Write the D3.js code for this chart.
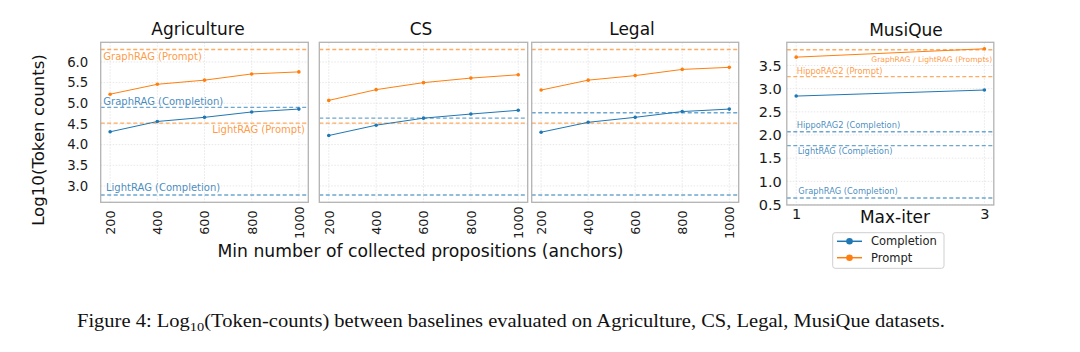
<!DOCTYPE html>
<html>
<head>
<meta charset="utf-8">
<script src="https://cdn.jsdelivr.net/npm/d3@7"></script>
<style>
  body { margin: 0; background: #fff; }
  svg { display: block; font-family: "DejaVu Sans", sans-serif; }
</style>
</head>
<body>
<div id="chart"></div>
<script>
// x values (min number of collected anchors)
const anchors = [200, 400, 600, 800, 1000];
const yTicks = [3.0, 3.5, 4.0, 4.5, 5.0, 5.5, 6.0];

// per dataset series (log10 token counts)
const agriPrompt = [5.22, 5.46, 5.56, 5.71, 5.76];
const agriCompletion = [4.31, 4.56, 4.66, 4.79, 4.86];
const csPrompt = [5.07, 5.33, 5.50, 5.61, 5.69];
const csCompletion = [4.22, 4.47, 4.64, 4.74, 4.83];
const legalPrompt = [5.32, 5.56, 5.67, 5.82, 5.87];
const legalCompletion = [4.30, 4.54, 4.66, 4.80, 4.86];

// baseline reference lines
const graphragPrompt = 6.30;
const lightragPrompt = 4.52;
const lightragCompletion = 2.78;
const graphragCompletion = [4.90, 4.64, 4.77]; // Agriculture, CS, Legal

// MusiQue
const maxIter = [1, 3];
const musiquePrompt = [3.68, 3.86];
const musiqueCompletion = [2.84, 2.97];
const musiqueYTicks = [0.5, 1.0, 1.5, 2.0, 2.5, 3.0, 3.5];
const musiqueRefs = [
    {label: 'GraphRAG / LightRAG (Prompts)', value: 3.84, kind: 'prompt'},
    {label: 'HippoRAG2 (Prompt)', value: 3.26, kind: 'prompt'},
    {label: 'HippoRAG2 (Completion)', value: 2.07, kind: 'completion'},
    {label: 'LightRAG (Completion)', value: 1.77, kind: 'completion'},
    {label: 'GraphRAG (Completion)', value: 0.64, kind: 'completion'}
];

const BLUE = '#1f77b4';
const ORANGE = '#ff7f0e';

const svg = d3.select('#chart').append('svg')
    .attr('width', 1080)
    .attr('height', 352);

const plotTop = 42.3, plotBottom = 202.3;

// shared y scale for the three anchor panels
const yMin = lightragCompletion, yMax = graphragPrompt;
const pad = (yMax - yMin) * 0.05;
const y = d3.scaleLinear().domain([yMin - pad, yMax + pad]).range([plotBottom, plotTop]);

const panels = [
    {name: 'Agriculture', x0: 100.7, x1: 308.3, titleX: 198, prompt: agriPrompt, completion: agriCompletion, gc: graphragCompletion[0]},
    {name: 'CS', x0: 319.3, x1: 527.7, titleX: 421, prompt: csPrompt, completion: csCompletion, gc: graphragCompletion[1]},
    {name: 'Legal', x0: 531.7, x1: 738.7, titleX: 632, prompt: legalPrompt, completion: legalCompletion, gc: graphragCompletion[2]}
];

function drawGrid(g, x, yS, xt, yt, x0, x1, y0, y1) {
    g.selectAll(null).data(xt).enter().append('line')
        .attr('x1', d => x(d)).attr('x2', d => x(d))
        .attr('y1', y0).attr('y2', y1)
        .attr('stroke', '#dcdcdc').attr('stroke-width', 0.7).attr('stroke-dasharray', '1.5,1.5');
    g.selectAll(null).data(yt).enter().append('line')
        .attr('x1', x0).attr('x2', x1)
        .attr('y1', d => yS(d)).attr('y2', d => yS(d))
        .attr('stroke', '#dcdcdc').attr('stroke-width', 0.7).attr('stroke-dasharray', '1.5,1.5');
}

function refLine(g, yS, v, color, x0, x1) {
    g.append('line')
        .attr('x1', x0).attr('x2', x1)
        .attr('y1', yS(v)).attr('y2', yS(v))
        .attr('stroke', color).attr('stroke-width', 1.4)
        .attr('stroke-opacity', 0.65)
        .attr('stroke-dasharray', '4,2.5');
}

function series(g, x, yS, xs, ys, color) {
    const line = d3.line().x((d, i) => x(xs[i])).y(d => yS(d));
    g.append('path').datum(ys)
        .attr('d', line).attr('fill', 'none')
        .attr('stroke', color).attr('stroke-width', 1);
    g.selectAll(null).data(ys).enter().append('circle')
        .attr('cx', (d, i) => x(xs[i])).attr('cy', d => yS(d))
        .attr('r', 1.8).attr('fill', color);
}

panels.forEach((p, pi) => {
    const x = d3.scaleLinear().domain([160, 1040]).range([p.x0, p.x1]);
    const g = svg.append('g');

    drawGrid(g, x, y, anchors, yTicks, p.x0, p.x1, plotTop, plotBottom);

    refLine(g, y, graphragPrompt, ORANGE, p.x0, p.x1);
    refLine(g, y, lightragPrompt, ORANGE, p.x0, p.x1);
    refLine(g, y, p.gc, BLUE, p.x0, p.x1);
    refLine(g, y, lightragCompletion, BLUE, p.x0, p.x1);

    series(g, x, y, anchors, p.prompt, ORANGE);
    series(g, x, y, anchors, p.completion, BLUE);

    // frame
    g.append('rect')
        .attr('x', p.x0).attr('y', plotTop)
        .attr('width', p.x1 - p.x0).attr('height', plotBottom - plotTop)
        .attr('fill', 'none').attr('stroke', '#b3b3b3').attr('stroke-width', 1.3);

    // x axis, rotated labels
    const xa = g.append('g')
        .attr('transform', `translate(0,${plotBottom})`)
        .call(d3.axisBottom(x).tickValues(anchors).tickSize(0).tickFormat(d3.format('d')));
    xa.select('.domain').remove();
    xa.selectAll('text')
        .attr('transform', 'rotate(-90)')
        .attr('x', -20.3).attr('y', 0).attr('dy', '0.35em')
        .attr('text-anchor', 'middle')
        .style('font-size', '12.8px')
        .style('font-family', '"DejaVu Sans", sans-serif')
        .attr('fill', '#1a1a1a');

    if (pi === 0) {
        const ya = g.append('g')
            .attr('transform', `translate(${p.x0},0)`)
            .call(d3.axisLeft(y).tickValues(yTicks).tickSize(0).tickPadding(12.4).tickFormat(d3.format('.1f')));
        ya.select('.domain').remove();
        ya.selectAll('text')
            .style('font-size', '13.3px')
            .style('font-family', '"DejaVu Sans", sans-serif')
            .attr('fill', '#1a1a1a');

        // annotations
        g.append('text').attr('x', 103.3).attr('y', 59.5)
            .attr('fill', ORANGE).attr('fill-opacity', 0.8)
            .style('font-size', '10px').text('GraphRAG (Prompt)');
        g.append('text').attr('x', 103.3).attr('y', 104.5)
            .attr('fill', BLUE).attr('fill-opacity', 0.85)
            .style('font-size', '10px').text('GraphRAG (Completion)');
        g.append('text').attr('x', 305).attr('y', 132.5)
            .attr('text-anchor', 'end')
            .attr('fill', ORANGE).attr('fill-opacity', 0.8)
            .style('font-size', '10px').text('LightRAG (Prompt)');
        g.append('text').attr('x', 106).attr('y', 191)
            .attr('fill', BLUE).attr('fill-opacity', 0.85)
            .style('font-size', '10px').text('LightRAG (Completion)');
    }

    g.append('text')
        .attr('x', p.titleX).attr('y', 35)
        .attr('text-anchor', 'middle')
        .style('font-size', '17px')
        .attr('fill', '#111')
        .text(p.name);
});

// shared labels
svg.append('text')
    .attr('transform', 'translate(44,140) rotate(-90)')
    .attr('text-anchor', 'middle')
    .style('font-size', '16.6px')
    .attr('fill', '#111')
    .text('Log10(Token counts)');

svg.append('text')
    .attr('x', 420.5).attr('y', 257)
    .attr('text-anchor', 'middle')
    .style('font-size', '17.2px')
    .attr('fill', '#111')
    .text('Min number of collected propositions (anchors)');

// MusiQue panel
const mx0 = 786.8, mx1 = 993.8, mTop = 42.3, mBottom = 205;
const mx = d3.scaleLinear().domain([0.9, 3.1]).range([mx0, mx1]);
const my = d3.scaleLinear().domain([0.49, 4.0]).range([mBottom, mTop]);
const mg = svg.append('g');

drawGrid(mg, mx, my, maxIter, musiqueYTicks, mx0, mx1, mTop, mBottom);
musiqueRefs.forEach(r => refLine(mg, my, r.value, r.kind === 'prompt' ? ORANGE : BLUE, mx0, mx1));
series(mg, mx, my, maxIter, musiquePrompt, ORANGE);
series(mg, mx, my, maxIter, musiqueCompletion, BLUE);

mg.append('rect')
    .attr('x', mx0).attr('y', mTop)
    .attr('width', mx1 - mx0).attr('height', mBottom - mTop)
    .attr('fill', 'none').attr('stroke', '#b3b3b3').attr('stroke-width', 1.3);

const mya = mg.append('g')
    .attr('transform', `translate(${mx0},0)`)
    .call(d3.axisLeft(my).tickValues(musiqueYTicks).tickSize(0).tickPadding(5).tickFormat(d3.format('.1f')));
mya.select('.domain').remove();
mya.selectAll('text')
    .style('font-size', '14.5px')
    .style('font-family', '"DejaVu Sans", sans-serif')
    .attr('fill', '#1a1a1a');

const mxa = mg.append('g')
    .attr('transform', `translate(0,${mBottom})`)
    .call(d3.axisBottom(mx).tickValues(maxIter).tickSize(0).tickPadding(4).tickFormat(d3.format('d')));
mxa.select('.domain').remove();
mxa.selectAll('text')
    .style('font-size', '14.5px')
    .style('font-family', '"DejaVu Sans", sans-serif')
    .attr('fill', '#1a1a1a');

// MusiQue annotations: [text x, baseline y, anchor]
const musiqueLabelPos = [[992.3, 62, 'end'], [796.7, 73.5, 'start'], [796.7, 128, 'start'], [797.7, 154, 'start'], [798.3, 194, 'start']];
musiqueRefs.forEach((r, i) => {
    const [lx, ly, anchor] = musiqueLabelPos[i];
    mg.append('text')
        .attr('x', lx).attr('y', ly)
        .attr('text-anchor', anchor)
        .attr('fill', r.kind === 'prompt' ? ORANGE : BLUE)
        .attr('fill-opacity', r.kind === 'prompt' ? 0.8 : 0.85)
        .style('font-size', i === 0 ? '7.6px' : '8.3px')
        .text(r.label);
});

mg.append('text')
    .attr('x', 906).attr('y', 36)
    .attr('text-anchor', 'middle')
    .style('font-size', '17px')
    .attr('fill', '#111')
    .text('MusiQue');

mg.append('text')
    .attr('x', 895).attr('y', 222.7)
    .attr('text-anchor', 'middle')
    .style('font-size', '17px')
    .attr('fill', '#111')
    .text('Max-iter');

// legend
const legend = svg.append('g').attr('transform', 'translate(832.7,232.7)');
legend.append('rect')
    .attr('width', 111.3).attr('height', 35.6)
    .attr('rx', 2.5)
    .attr('fill', '#fff').attr('stroke', '#cfcfcf').attr('stroke-width', 1);
[['Completion', BLUE], ['Prompt', ORANGE]].forEach(([name, color], i) => {
    const ly = 8.6 + i * 16.4;
    legend.append('line')
        .attr('x1', 4.3).attr('x2', 29.3).attr('y1', ly).attr('y2', ly)
        .attr('stroke', color).attr('stroke-width', 1.5);
    legend.append('circle')
        .attr('cx', 16.8).attr('cy', ly).attr('r', 3.3).attr('fill', color);
    legend.append('text')
        .attr('x', 38.3).attr('y', ly).attr('dy', '0.35em')
        .style('font-size', '11.5px')
        .attr('fill', '#222')
        .text(name);
});

// caption
const cap = svg.append('text')
    .attr('x', 77).attr('y', 327)
    .attr('textLength', 868)
    .attr('lengthAdjust', 'spacingAndGlyphs')
    .style('font-family', '"Liberation Serif", "Times New Roman", serif')
    .style('font-size', '18.5px')
    .attr('fill', '#111');
cap.append('tspan').text('Figure 4: Log');
cap.append('tspan').attr('dy', 4).style('font-size', '13px').text('10');
cap.append('tspan').attr('dy', -4).text('(Token-counts) between baselines evaluated on Agriculture, CS, Legal, MusiQue datasets.');
</script>
</body>
</html>
